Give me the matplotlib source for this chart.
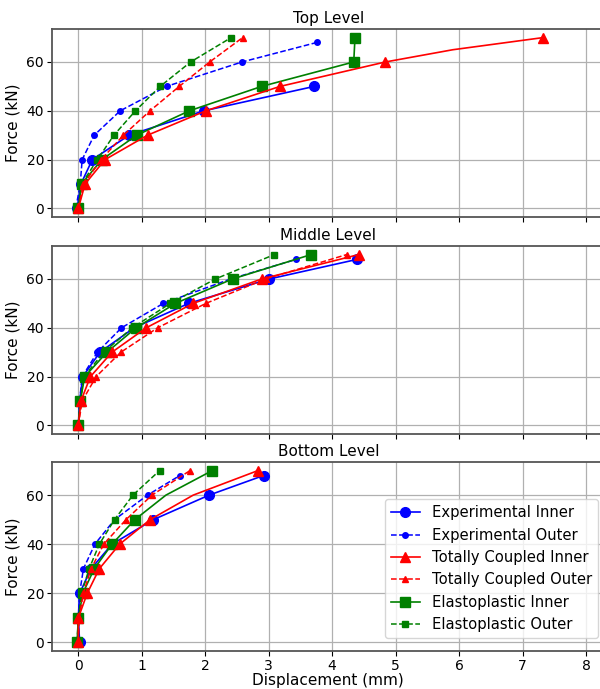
import matplotlib
matplotlib.use("Agg")
import matplotlib.pyplot as plt

levels = ["Top Level", "Middle Level", "Bottom Level"]
series_names = ["Experimental Inner", "Experimental Outer",
                "Totally Coupled Inner", "Totally Coupled Outer",
                "Elastoplastic Inner", "Elastoplastic Outer"]

F8 = [0, 10, 20, 30, 40, 50, 60, 70]
F_exp_top_in = [0, 10, 20, 30, 40, 50]
F_exp68 = [0, 10, 20, 30, 40, 50, 60, 68]
F_tc_top_in = [0, 10, 20, 30, 40, 50, 60, 65, 70]

# ---- Top level
top_exp_in_x = [-0.02, 0.04, 0.22, 0.80, 1.98, 3.72]
top_exp_out_x = [-0.04, 0.03, 0.06, 0.25, 0.66, 1.39, 2.58, 3.76]
top_tc_in_x = [0.0, 0.105, 0.42, 1.09, 2.01, 3.18, 4.84, 5.9, 7.33]
top_tc_out_x = [0.0, 0.08, 0.36, 0.71, 1.13, 1.59, 2.07, 2.59]
top_ep_in_x = [0.0, 0.05, 0.37, 0.92, 1.75, 2.89, 4.34, 4.36]
top_ep_out_x = [0.0, 0.05, 0.30, 0.56, 0.90, 1.29, 1.77, 2.41]

# ---- Middle level
mid_exp_in_x = [0.0, 0.02, 0.07, 0.34, 0.88, 1.74, 3.01, 4.39]
mid_exp_out_x = [0.0, 0.02, 0.06, 0.30, 0.68, 1.34, 2.40, 3.43]
mid_tc_in_x = [0.0, 0.04, 0.19, 0.53, 1.07, 1.81, 2.89, 4.42]
mid_tc_out_x = [0.0, 0.06, 0.28, 0.67, 1.25, 2.01, 2.95, 4.23]
mid_ep_in_x = [0.0, 0.03, 0.10, 0.45, 0.91, 1.53, 2.43, 3.67]
mid_ep_out_x = [0.0, 0.03, 0.09, 0.40, 0.85, 1.45, 2.16, 3.09]

# ---- Bottom level
bot_exp_in_x = [0.02, 0.0, 0.02, 0.20, 0.53, 1.18, 2.06, 2.92]
bot_exp_out_x = [0.0, 0.0, 0.02, 0.08, 0.26, 0.57, 1.09, 1.60]
bot_tc_in_x = [0.0, 0.0, 0.14, 0.33, 0.65, 1.13, 1.81, 2.83]
bot_tc_out_x = [0.0, 0.01, 0.08, 0.20, 0.40, 0.75, 1.16, 1.76]
bot_ep_in_x = [-0.02, 0.0, 0.07, 0.25, 0.53, 0.89, 1.38, 2.11]
bot_ep_out_x = [-0.02, 0.0, 0.05, 0.17, 0.33, 0.57, 0.86, 1.28]

# marker indices (some points carry no marker)
top_tc_in_marks = [0, 1, 2, 3, 4, 5, 6, 8]
bot_tc_in_marks = [0, 1, 2, 3, 4, 5, 7]
bot_ep_in_marks = [0, 1, 2, 3, 4, 5, 7]

panels = [
    dict(exp_in=(top_exp_in_x, F_exp_top_in, None),
         exp_out=(top_exp_out_x, F_exp68, None),
         tc_in=(top_tc_in_x, F_tc_top_in, top_tc_in_marks),
         tc_out=(top_tc_out_x, F8, None),
         ep_in=(top_ep_in_x, F8, None),
         ep_out=(top_ep_out_x, F8, None)),
    dict(exp_in=(mid_exp_in_x, F_exp68, None),
         exp_out=(mid_exp_out_x, F_exp68, None),
         tc_in=(mid_tc_in_x, F8, None),
         tc_out=(mid_tc_out_x, F8, None),
         ep_in=(mid_ep_in_x, F8, None),
         ep_out=(mid_ep_out_x, F8, None)),
    dict(exp_in=(bot_exp_in_x, F_exp68, None),
         exp_out=(bot_exp_out_x, F_exp68, None),
         tc_in=(bot_tc_in_x, F8, bot_tc_in_marks),
         tc_out=(bot_tc_out_x, F8, None),
         ep_in=(bot_ep_in_x, F8, bot_ep_in_marks),
         ep_out=(bot_ep_out_x, F8, None)),
]

styles = {
    "exp_in": dict(color="blue", ls="-", marker="o", ms=7, lw=1.2),
    "exp_out": dict(color="blue", ls="--", marker="o", ms=4, lw=1.1),
    "tc_in": dict(color="red", ls="-", marker="^", ms=7, lw=1.2),
    "tc_out": dict(color="red", ls="--", marker="^", ms=4, lw=1.1),
    "ep_in": dict(color="green", ls="-", marker="s", ms=7, lw=1.2),
    "ep_out": dict(color="green", ls="--", marker="s", ms=4, lw=1.1),
}
keys = ["exp_in", "exp_out", "tc_in", "tc_out", "ep_in", "ep_out"]
draw_order = ["exp_in", "exp_out", "ep_in", "ep_out", "tc_in", "tc_out"]

fig = plt.figure(figsize=(6.0, 6.89), dpi=100)
left = 51.7 / 600
width = (605 - 51.7) / 600
rects = [
    [left, 1 - 217 / 689, width, 188 / 689],
    [left, 1 - 434 / 689, width, 188 / 689],
    [left, 1 - 651 / 689, width, 189 / 689],
]

for i, (rect, title, pdata) in enumerate(zip(rects, levels, panels)):
    ax = fig.add_axes(rect)
    handles = {}
    for k in draw_order:
        x, y, marks = pdata[k]
        st = styles[k]
        ln, = ax.plot(x, y, color=st["color"], linestyle=st["ls"], marker=st["marker"],
                      markersize=st["ms"], linewidth=st["lw"],
                      markevery=marks, label=series_names[keys.index(k)])
        handles[k] = ln
    ax.set_title(title, fontsize=11, pad=4)
    ax.set_ylabel("Force (kN)", fontsize=11, labelpad=4)
    ax.set_xlim(-0.42, 8.3)
    ax.set_ylim(-3.5, 73.5)
    ax.set_xticks(range(0, 9))
    ax.set_yticks([0, 20, 40, 60])
    ax.tick_params(labelsize=10, pad=2)
    ax.grid(True, color="#b0b0b0", linewidth=0.9)
    ax.set_axisbelow(True)
    for sp in ax.spines.values():
        sp.set_color("#555555")
        sp.set_linewidth(1.3)
    if i < 2:
        ax.tick_params(labelbottom=False)
    else:
        ax.set_xlabel("Displacement (mm)", fontsize=11, labelpad=0)
        fig.legend([handles[k] for k in keys], series_names, loc="lower right",
                   bbox_to_anchor=(598 / 600, 1 - 638 / 689), borderaxespad=0,
                   fontsize=10.6)

fig.savefig("out.png", dpi=100)
